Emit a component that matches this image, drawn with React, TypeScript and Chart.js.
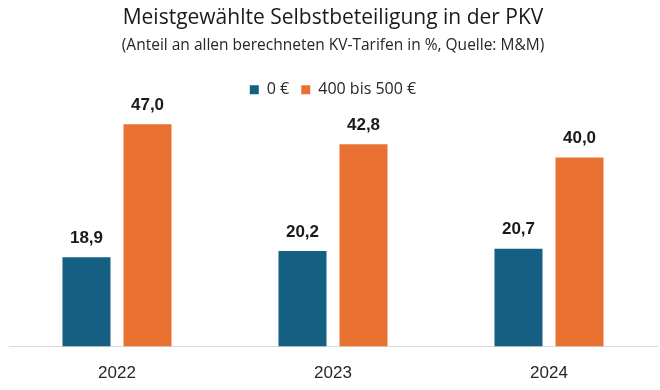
import React, { useEffect, useRef } from "react";
import { Chart, registerables } from "chart.js";

Chart.register(...registerables);

const categories = ["2022", "2023", "2024"];
const seriesNames = ["0 €", "400 bis 500 €"];
const valuesZero = [18.9, 20.2, 20.7];
const values400 = [47.0, 42.8, 40.0];
const colors = ["#156082", "#E97132"];

const titleText = "Meistgewählte Selbstbeteiligung in der PKV";
const subtitleText = "(Anteil an allen berechneten KV-Tarifen in %, Quelle: M&M)";

const valueLabels = {
  id: "valueLabels",
  afterDatasetsDraw(chart: any) {
    const ctx = chart.ctx;
    ctx.save();
    ctx.font = "bold 17px 'Liberation Sans', Arial, sans-serif";
    ctx.fillStyle = "#1a1a1a";
    ctx.textAlign = "center";
    ctx.textBaseline = "middle";
    chart.data.datasets.forEach((ds: any, i: number) => {
      const meta = chart.getDatasetMeta(i);
      meta.data.forEach((bar: any, j: number) => {
        const v = ds.data[j] as number;
        ctx.fillText(v.toFixed(1).replace(".", ","), bar.x, bar.y - 19);
      });
    });
    ctx.restore();
  },
};

export default function App() {
  const ref = useRef<HTMLCanvasElement | null>(null);
  useEffect(() => {
    if (!ref.current) return;
    const chart = new Chart(ref.current, {
      type: "bar",
      data: {
        labels: categories,
        datasets: [
          { label: seriesNames[0], data: valuesZero, backgroundColor: colors[0] },
          { label: seriesNames[1], data: values400, backgroundColor: colors[1] },
        ],
      },
      options: {
        animation: false,
        responsive: false,
        maintainAspectRatio: false,
        datasets: { bar: { categoryPercentage: 0.565, barPercentage: 0.787 } },
        layout: { padding: { left: 9, right: 3, top: 0, bottom: -11 } },
        plugins: {
          title: {
            display: true,
            text: titleText,
            color: "#1a1a1a",
            font: { family: "'Open Sans', sans-serif", size: 21, weight: "normal" },
            padding: { top: 5, bottom: 6 },
          },
          subtitle: {
            display: true,
            text: subtitleText,
            color: "#262626",
            font: { family: "'Open Sans', sans-serif", size: 15.5, weight: "normal" },
            padding: { top: 0, bottom: 15 },
          },
          legend: {
            display: true,
            position: "top",
            labels: {
              boxWidth: 9,
              boxHeight: 9,
              padding: 12,
              color: "#262626",
              font: { family: "'Open Sans', sans-serif", size: 16 },
            },
          },
          tooltip: { enabled: false },
        },
        scales: {
          x: {
            grid: { display: false, drawTicks: false },
            border: { display: true, color: "#D9D9D9", width: 1 },
            ticks: {
              padding: 17,
              color: "#262626",
              font: { family: "'Liberation Sans', Arial, sans-serif", size: 17 },
            },
          },
          y: {
            display: false,
            min: 0,
            max: 50.5,
          },
        },
      },
      plugins: [valueLabels],
    });
    return () => chart.destroy();
  }, []);
  return (
    <div style={{ position: "fixed", left: 0, top: 0, width: 660, height: 390, background: "#fff" }}>
      <canvas ref={ref} width={660} height={390} />
    </div>
  );
}
